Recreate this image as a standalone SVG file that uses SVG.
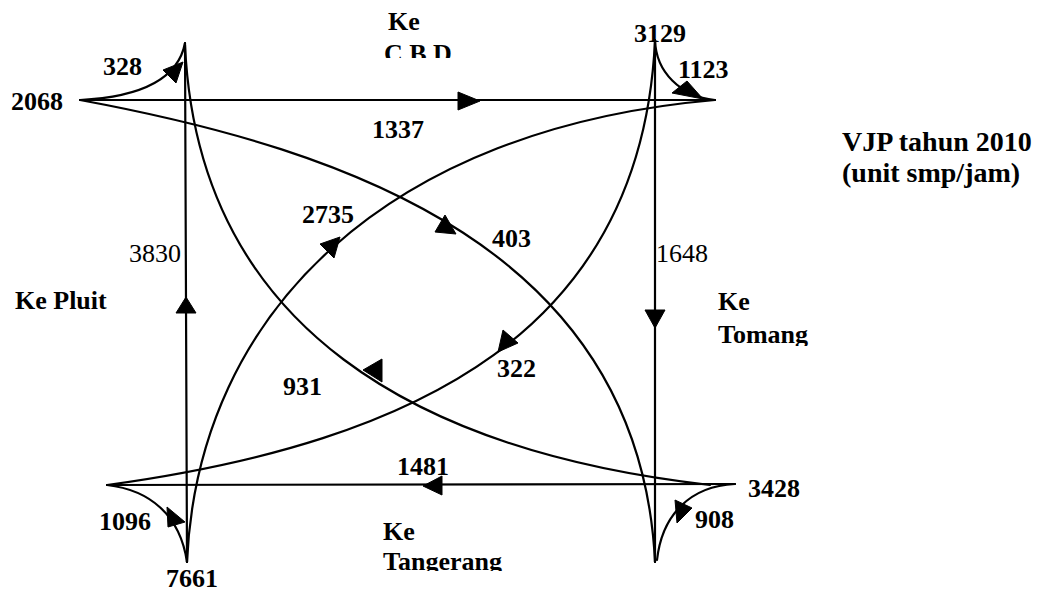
<svg xmlns="http://www.w3.org/2000/svg" width="1050" height="594" viewBox="0 0 1050 594">
<style>
.ln{fill:none;stroke:#000;stroke-width:2.2;stroke-linecap:round}
.ah{fill:#000;stroke:#000;stroke-width:1;stroke-linejoin:round}
text{font-family:"Liberation Serif","Times New Roman",serif;font-size:26px;fill:#000}
.b{font-weight:bold}
.t{font-size:28px}
</style>
<defs>
<clipPath id="clipCBD"><rect x="0" y="0" width="1050" height="58"/></clipPath>
<clipPath id="clipTom"><rect x="0" y="0" width="1050" height="346"/></clipPath>
<clipPath id="clipTan"><rect x="0" y="0" width="1050" height="571"/></clipPath>
</defs>
<rect width="1050" height="594" fill="#fff"/>
<g id="connectors">
<path class="ln" d="M80,100 L715,100"/>
<path class="ln" d="M107,485 L735,484"/>
<path class="ln" d="M185,43 L187,562"/>
<path class="ln" d="M655,40 L655,562"/>
<path class="ln" d="M80,100 C350,150 640,250 655,562"/>
<path class="ln" d="M187,562 C198,310 390,128 715,100"/>
<path class="ln" d="M185,45 C198,330 420,452 710,485"/>
<path class="ln" d="M655,40 C642,330 420,442 107,485"/>
<path class="ln" d="M80,100 C140,97 178,80 185,43"/>
<path class="ln" d="M655,40 C656,72 680,96 715,100"/>
<path class="ln" d="M735,484 C690,486 662,515 657,560"/>
<path class="ln" d="M107,485 C150,490 180,515 187,562"/>
<polygon class="ah" points="480,101 458,92 458,110"/>
<polygon class="ah" points="423,486 442,476 442,495"/>
<polygon class="ah" points="186,297 176,313 196,313"/>
<polygon class="ah" points="655,328 645,310 665,310"/>
<polygon class="ah" points="456,234 435,232 445,215"/>
<polygon class="ah" points="340,237 334,258 320,244"/>
<polygon class="ah" points="363,370 382,359 382,382"/>
<polygon class="ah" points="498,352 503,330 518,343"/>
<polygon class="ah" points="183,62 163,70 176,83"/>
<polygon class="ah" points="703,99 672,93 687,81"/>
<polygon class="ah" points="677,523 675,500 692,508"/>
<polygon class="ah" points="185,522 167,507 168,527"/>
</g>
<g id="labels-volumes">
<text class="b" x="63" y="110" text-anchor="end">2068</text>
<text class="b" x="103" y="75">328</text>
<text class="b" x="634" y="42">3129</text>
<text class="b" x="678" y="78">1123</text>
<text class="b" x="372" y="138">1337</text>
<text class="b" x="302" y="223">2735</text>
<text class="b" x="492" y="247">403</text>
<text x="129" y="262">3830</text>
<text x="656" y="262">1648</text>
<text class="b" x="283" y="395">931</text>
<text class="b" x="497" y="377">322</text>
<text class="b" x="397" y="475">1481</text>
<text class="b" x="99" y="530">1096</text>
<text class="b" x="166" y="587">7661</text>
<text class="b" x="695" y="528">908</text>
<text class="b" x="748" y="497">3428</text>
</g>
<g id="node-cbd">
<text class="b" x="388" y="30">Ke</text>
<text class="b" x="384" y="62" clip-path="url(#clipCBD)">C B D</text>
</g>
<g id="node-pluit">
<text class="b" x="15" y="309">Ke Pluit</text>
</g>
<g id="node-tomang">
<text class="b" x="718" y="310">Ke</text>
<text class="b" x="718" y="343" clip-path="url(#clipTom)">Tomang</text>
</g>
<g id="node-tangerang">
<text class="b" x="383" y="540">Ke</text>
<text class="b" x="383" y="570" clip-path="url(#clipTan)">Tangerang</text>
</g>
<g id="title">
<text class="b t" x="842" y="151">VJP tahun 2010</text>
<text class="b t" x="842" y="182">(unit smp/jam)</text>
</g>
</svg>
